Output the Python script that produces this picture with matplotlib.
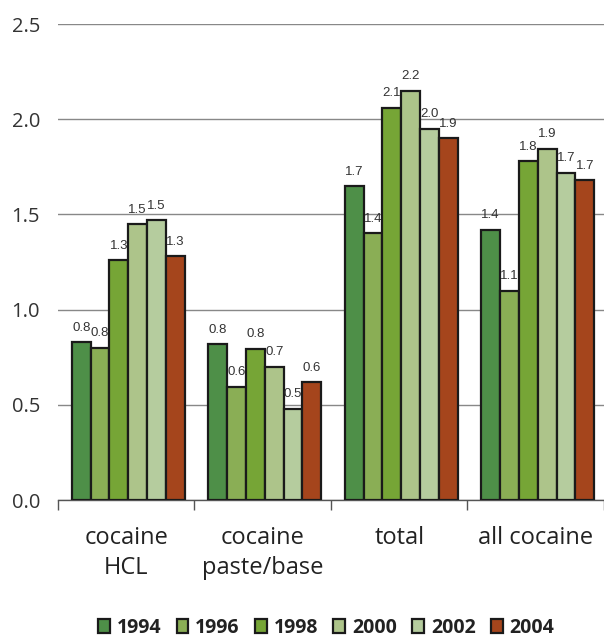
import matplotlib
matplotlib.use("Agg")
import matplotlib.pyplot as plt
import numpy as np

categories = ["cocaine\nHCL", "cocaine\npaste/base", "total", "all cocaine"]
years = ["1994", "1996", "1998", "2000", "2002", "2004"]
values = {
    "1994": [0.83, 0.82, 1.65, 1.42],
    "1996": [0.80, 0.595, 1.40, 1.10],
    "1998": [1.26, 0.795, 2.06, 1.78],
    "2000": [1.45, 0.70, 2.15, 1.845],
    "2002": [1.47, 0.48, 1.95, 1.72],
    "2004": [1.28, 0.62, 1.90, 1.68],
}
labels = {
    "1994": ["0.8", "0.8", "1.7", "1.4"],
    "1996": ["0.8", "0.6", "1.4", "1.1"],
    "1998": ["1.3", "0.8", "2.1", "1.8"],
    "2000": ["1.5", "0.7", "2.2", "1.9"],
    "2002": ["1.5", "0.5", "2.0", "1.7"],
    "2004": ["1.3", "0.6", "1.9", "1.7"],
}
colors = ["#4E8F48", "#8AAE55", "#76A536", "#ADC48A", "#B5CC9E", "#A5451C"]
yticks = [0.0, 0.5, 1.0, 1.5, 2.0, 2.5]

fig = plt.figure(figsize=(6.04, 6.44), dpi=100)
ax = fig.add_axes([0.096, 0.2236, 0.904, 0.7391])

x = np.arange(len(categories))
bw = 0.138
n = len(years)
for i, (yr, c) in enumerate(zip(years, colors)):
    xs = x + 0.015 + (i - (n - 1) / 2) * bw
    ax.bar(xs, values[yr], width=bw, color=c, edgecolor="#1a1a1a",
           linewidth=1.6, label=yr, zorder=3)
    for xi, v, lab in zip(xs, values[yr], labels[yr]):
        ax.annotate(lab, (xi, v), xytext=(0, 6), textcoords="offset points",
                    ha="center", va="bottom", fontsize=9.5,
                    family="Liberation Sans", color="#333333", zorder=4)

ax.set_xlim(-0.5, len(categories) - 0.5)
ax.set_ylim(0, 2.5)
ax.set_yticks(yticks)
ax.set_yticklabels([f"{t:.1f}" for t in yticks], family="Open Sans",
                   fontsize=14.5, color="#333333")
ax.yaxis.grid(True, color="#888888", linewidth=1, zorder=0)
ax.tick_params(axis="y", length=0, pad=13)
for s in ["left", "right", "top"]:
    ax.spines[s].set_visible(False)
ax.spines["bottom"].set_color("#555555")
ax.spines["bottom"].set_linewidth(1)

ax.set_xticks(x)
ax.set_xticklabels(categories, family="Open Sans", fontsize=17, color="#222222",
                   linespacing=1.3)
ax.tick_params(axis="x", which="major", length=0, pad=19)
ax.set_xticks(np.arange(-0.5, len(categories) + 0.5, 1), minor=True)
ax.tick_params(axis="x", which="minor", length=7, direction="out",
               color="#555555", width=1)

leg = fig.legend(loc="center", bbox_to_anchor=(0.54, 0.025), ncol=6,
                 frameon=False, handlelength=0.6, handleheight=0.75,
                 handletextpad=0.35, columnspacing=0.8, borderpad=0.2,
                 prop={"family": "Open Sans", "weight": "bold", "size": 14})
for t in leg.get_texts():
    t.set_color("#222222")

fig.savefig("out.png", dpi=100)
